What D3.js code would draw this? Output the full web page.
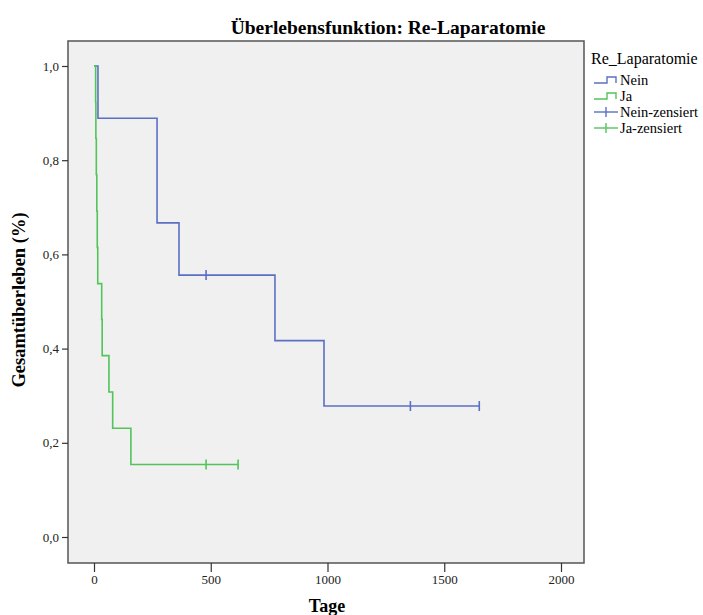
<!DOCTYPE html>
<html><head><meta charset="utf-8">
<script src="https://cdn.jsdelivr.net/npm/d3@7"></script>
<style>body{margin:0;background:#fff;} svg{display:block;} text{font-family:"Liberation Serif","Times New Roman",serif;}</style>
</head><body>
<svg id="c" width="703" height="615"></svg>
<script>
const groups = ["Nein", "Ja"];
const neinTimes = [0, 17, 270, 364, 775, 985, 1650];
const neinSurv = [1.0, 0.889, 0.667, 0.556, 0.417, 0.278, 0.278];
const neinCensTimes = [480, 1355, 1650];
const neinCensSurv = [0.556, 0.278, 0.278];
const jaTimes = [0, 7, 8, 10, 12, 14, 16, 33, 35, 64, 80, 158, 617];
const jaSurv = [1.0, 0.923, 0.846, 0.769, 0.692, 0.615, 0.538, 0.462, 0.385, 0.308, 0.231, 0.154, 0.154];
const jaCensTimes = [480, 617];
const jaCensSurv = [0.154, 0.154];
const xTicks = [0, 500, 1000, 1500, 2000];
const yTicks = [0, 0.2, 0.4, 0.6, 0.8, 1.0];
const legendLabels = ["Nein", "Ja", "Nein-zensiert", "Ja-zensiert"];
const colors = {Nein: "#5b70c4", Ja: "#52c45a"};

const svg = d3.select("#c");
const box = {l: 68, t: 41, r: 584, b: 563};
const x = d3.scaleLinear().domain([0, 2000]).range([94, 561]);
const y = d3.scaleLinear().domain([0, 1]).range([537, 66]);

svg.append("rect").attr("x", box.l).attr("y", box.t).attr("width", box.r - box.l).attr("height", box.b - box.t)
  .attr("fill", "#f0f0f0").attr("stroke", "#555").attr("stroke-width", 1.5);

const fmt = d => d3.format(".1f")(d).replace(".", ",");
const yAxis = svg.append("g").attr("transform", `translate(${box.l},0)`)
  .call(d3.axisLeft(y).tickValues(yTicks).tickFormat(fmt).tickSize(6).tickPadding(3));
const xAxis = svg.append("g").attr("transform", `translate(0,${box.b})`)
  .call(d3.axisBottom(x).tickValues(xTicks).tickFormat(d3.format("d")).tickSize(9).tickPadding(3));
[yAxis, xAxis].forEach(a => {
  a.select(".domain").remove();
  a.selectAll(".tick line").attr("stroke", "#333").attr("stroke-width", 1.2);
  a.selectAll(".tick text").attr("font-size", 13).attr("fill", "#222");
});

const line = d3.line().x(d => x(d[0])).y(d => y(d[1])).curve(d3.curveStepAfter);
function drawGroup(name, times, surv, ct, cs) {
  const pts = times.map((t, i) => [t, surv[i]]);
  svg.append("path").attr("d", line(pts)).attr("fill", "none").attr("stroke", colors[name]).attr("stroke-width", 1.6);
  ct.forEach((t, i) => {
    svg.append("line").attr("x1", x(t)).attr("x2", x(t)).attr("y1", y(cs[i]) - 5).attr("y2", y(cs[i]) + 5)
      .attr("stroke", colors[name]).attr("stroke-width", 1.6);
  });
}
drawGroup("Nein", neinTimes, neinSurv, neinCensTimes, neinCensSurv);
drawGroup("Ja", jaTimes, jaSurv, jaCensTimes, jaCensSurv);

svg.append("text").attr("x", 388).attr("y", 34).attr("text-anchor", "middle").attr("font-size", 19.5)
  .attr("font-weight", "bold").text("Überlebensfunktion: Re-Laparatomie");
svg.append("text").attr("x", 327).attr("y", 612).attr("text-anchor", "middle").attr("font-size", 18)
  .attr("font-weight", "bold").text("Tage");
svg.append("text").attr("transform", "translate(25,300) rotate(-90)").attr("text-anchor", "middle")
  .attr("font-size", 18.5).attr("font-weight", "bold").text("Gesamtüberleben (%)");

const lg = svg.append("g");
lg.append("text").attr("x", 591).attr("y", 64).attr("font-size", 16).text("Re_Laparatomie");
legendLabels.forEach((lab, i) => {
  const yy = 80 + i * 16;
  const c = i % 2 === 0 ? colors.Nein : colors.Ja;
  if (i < 2) {
    lg.append("path").attr("d", `M594,${yy + 3}H607V${yy - 3}H616V${yy + 3}`).attr("fill", "none")
      .attr("stroke", c).attr("stroke-width", 1.4);
  } else {
    lg.append("line").attr("x1", 594).attr("x2", 618).attr("y1", yy).attr("y2", yy).attr("stroke", c).attr("stroke-width", 1.4);
    lg.append("line").attr("x1", 606).attr("x2", 606).attr("y1", yy - 5).attr("y2", yy + 5).attr("stroke", c).attr("stroke-width", 1.4);
  }
  lg.append("text").attr("x", 620).attr("y", yy + 4.5).attr("font-size", 14.5).text(lab);
});
</script>
</body></html>
